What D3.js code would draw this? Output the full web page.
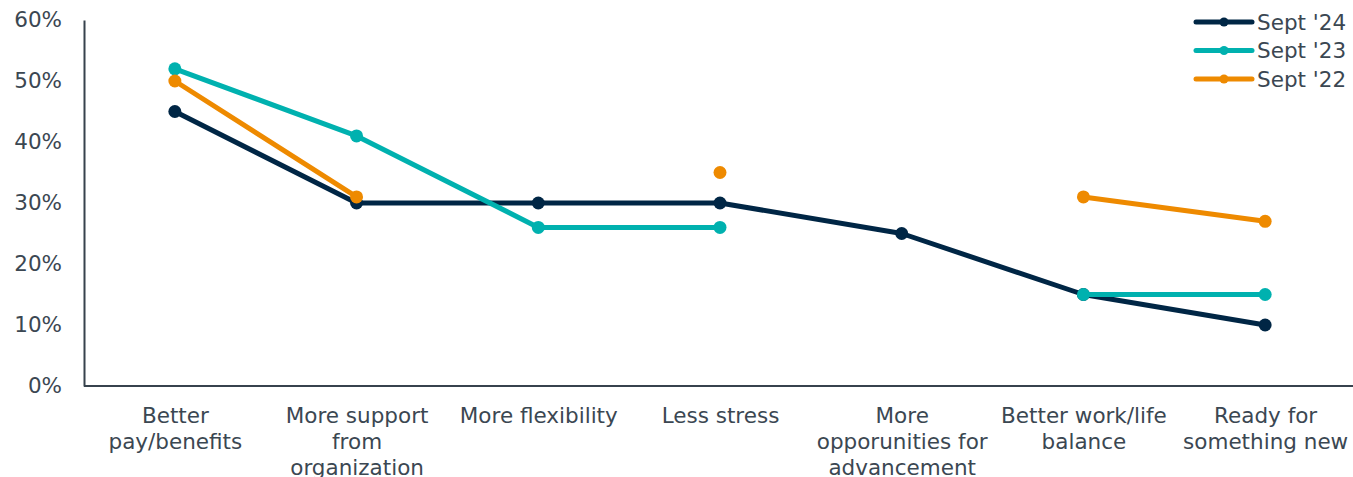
<!DOCTYPE html>
<html>
<head>
<meta charset="utf-8">
<script src="https://cdn.jsdelivr.net/npm/d3@7"></script>
<style>
  body { margin: 0; background: #fff; }
  text { font-family: "DejaVu Sans", Verdana, sans-serif; fill: #3b4752; }
</style>
</head>
<body>
<div id="chart"></div>
<script>
const categories = [
    "Better pay/benefits",
    "More support from organization",
    "More flexibility",
    "Less stress",
    "More opporunities for advancement",
    "Better work/life balance",
    "Ready for something new"
];
const sept24 = [45, 30, 30, 30, 25, 15, 10];
const sept23 = [52, 41, 26, 26, null, 15, 15];
const sept22 = [50, 31, null, 35, null, 31, 27];
const seriesNames = ["Sept '24", "Sept '23", "Sept '22"];
const yTicks = [0, 10, 20, 30, 40, 50, 60];

const renderChart = (element) => {
    const width = 1353;
    const height = 477;
    const margin = {top: 20, right: -3, bottom: 91, left: 84};
    const colors = ["#002645", "#00b1af", "#ee8a00"];
    const fontSize = "21.5px";

    const svg = d3.select(element)
        .append("svg")
        .attr("width", width)
        .attr("height", height);

    // Scales.
    const x = d3.scalePoint().domain(categories).range([margin.left, width - margin.right]).padding(0.5);
    const y = d3.scaleLinear().domain([0, 60]).range([height - margin.bottom, margin.top]);

    // Y axis.
    const yAxis = svg.append("g")
        .attr("transform", `translate(${margin.left},0)`)
        .call(d3.axisLeft(y).tickValues(yTicks).tickSize(0).tickPadding(22).tickFormat(d => d + "%"));
    yAxis.select(".domain").attr("stroke", "#37424d").attr("stroke-width", 2);
    yAxis.selectAll("text").attr("font-size", fontSize).attr("fill", "#3b4752");

    // X axis.
    const xAxis = svg.append("g")
        .attr("transform", `translate(0,${height - margin.bottom})`)
        .call(d3.axisBottom(x).tickSize(0).tickPadding(22));
    xAxis.select(".domain")
        .attr("d", `M${margin.left},0H${width}`)
        .attr("stroke", "#37424d").attr("stroke-width", 2);
    xAxis.selectAll("text")
        .attr("font-size", fontSize)
        .attr("fill", "#3b4752")
        .call(wrap, 182);

    // Lines and points.
    const data = [sept24, sept23, sept22];
    const line = d3.line()
        .defined(d => d != null)
        .x((d, i) => x(categories[i]))
        .y(d => y(d));

    data.forEach((values, s) => {
        const g = svg.append("g");
        g.append("path")
            .datum(values)
            .attr("d", line)
            .attr("fill", "none")
            .attr("stroke", colors[s])
            .attr("stroke-width", 5)
            .attr("stroke-linejoin", "round");
        g.selectAll("circle")
            .data(values.map((v, i) => ({v, i})).filter(d => d.v != null))
            .enter()
            .append("circle")
            .attr("cx", d => x(categories[d.i]))
            .attr("cy", d => y(d.v))
            .attr("r", 6.5)
            .attr("fill", colors[s]);
    });

    // Legend.
    const legend = svg.append("g").attr("transform", "translate(1196,22)");
    seriesNames.forEach((name, i) => {
        const row = legend.append("g").attr("transform", `translate(0,${i * 28.5})`);
        row.append("line")
            .attr("x1", 0).attr("x2", 56)
            .attr("stroke", colors[i]).attr("stroke-width", 5)
            .attr("stroke-linecap", "round");
        row.append("circle").attr("cx", 28).attr("r", 4.5).attr("fill", colors[i]);
        row.append("text")
            .attr("x", 61).attr("dy", "0.35em")
            .attr("font-size", fontSize)
            .text(name);
    });
};

// Word wrap for tick labels.
function wrap(texts, maxWidth) {
    texts.each(function() {
        const text = d3.select(this);
        const words = text.text().split(/\s+/);
        const yPos = text.attr("y");
        const dy = parseFloat(text.attr("dy"));
        text.text(null);
        let lineNo = 0;
        let current = [];
        let tspan = text.append("tspan").attr("x", 0).attr("y", yPos).attr("dy", dy + "em");
        words.forEach(w => {
            current.push(w);
            tspan.text(current.join(" "));
            if (tspan.node().getComputedTextLength() > maxWidth && current.length > 1) {
                current.pop();
                tspan.text(current.join(" "));
                current = [w];
                lineNo++;
                tspan = text.append("tspan").attr("x", 0).attr("y", yPos)
                    .attr("dy", (lineNo * 1.21 + dy) + "em").text(w);
            }
        });
    });
}

renderChart(document.getElementById("chart"));
</script>
</body>
</html>
